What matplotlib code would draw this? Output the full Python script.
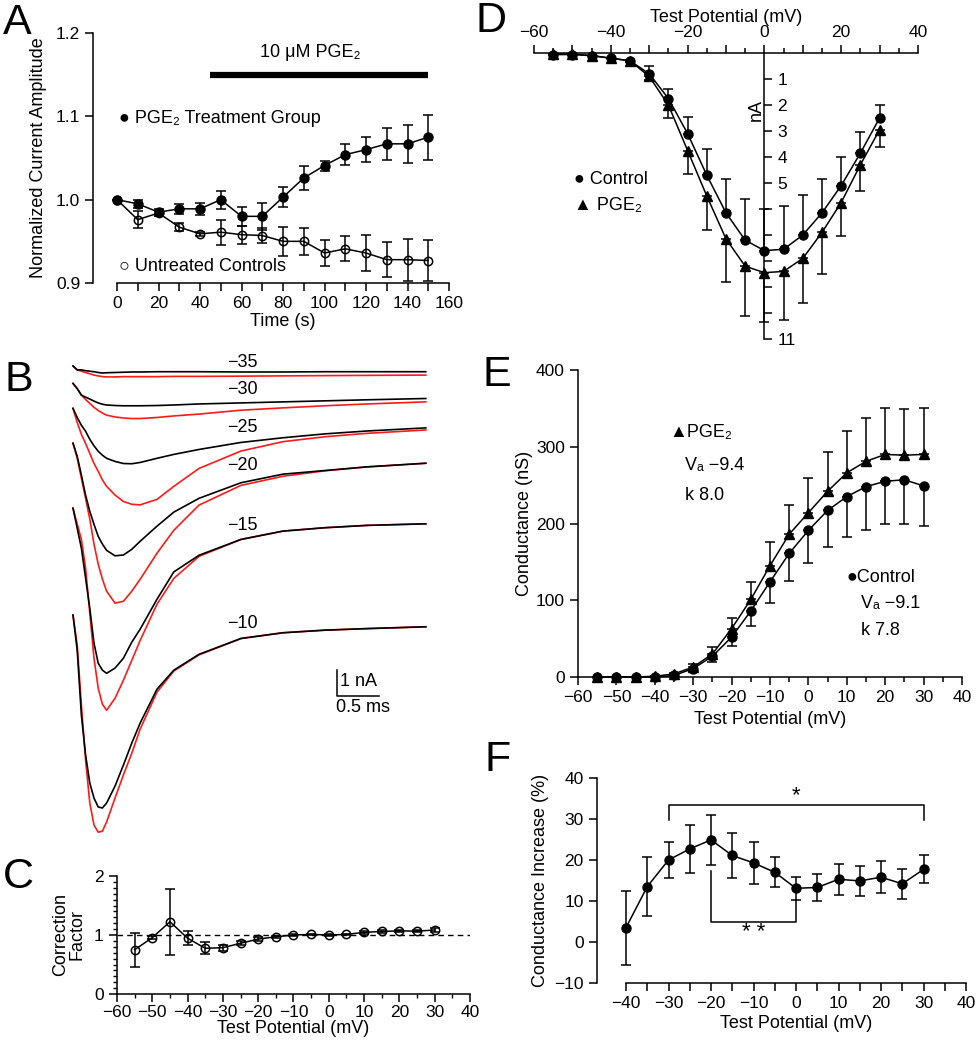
import matplotlib
matplotlib.use("Agg")
import matplotlib.pyplot as plt
from matplotlib.ticker import MultipleLocator, FixedLocator, FuncFormatter
import numpy as np

plt.rcParams["font.family"] = ["Liberation Sans", "DejaVu Sans"]
plt.rcParams["font.size"] = 13
plt.rcParams["axes.linewidth"] = 1.1
plt.rcParams["xtick.labelsize"] = 12.5
plt.rcParams["ytick.labelsize"] = 12.5

# ---- A: normalized current vs time
time_s = [0, 10, 20, 30, 40, 50, 60, 70, 80, 90, 100, 110, 120, 130, 140, 150]
pge_norm = [1.000, 0.995, 0.985, 0.989, 0.989, 1.000, 0.980, 0.980, 1.003, 1.026,
            1.041, 1.054, 1.060, 1.067, 1.067, 1.075]
pge_norm_err = [0.0, 0.005, 0.004, 0.006, 0.007, 0.011, 0.011, 0.016, 0.012, 0.014,
                0.006, 0.013, 0.015, 0.019, 0.023, 0.027]
ctrl_norm = [1.000, 0.976, 0.984, 0.967, 0.959, 0.961, 0.958, 0.957, 0.950, 0.950,
             0.936, 0.941, 0.936, 0.928, 0.928, 0.927]
ctrl_norm_err = [0.0, 0.010, 0.003, 0.005, 0.002, 0.015, 0.011, 0.009, 0.017, 0.016,
                 0.016, 0.015, 0.021, 0.021, 0.025, 0.024]
pge_window_s = [45, 150]

# ---- B: example traces (nA), control = black, PGE2 = red
trace_t_ms = [0, 0.05, 0.1, 0.15, 0.2, 0.25, 0.3, 0.35, 0.4, 0.5, 0.6, 0.7, 0.8,
              1.0, 1.2, 1.5, 2.0, 2.5, 3.0, 3.5, 4.2]
trace_labels = ["\u221235", "\u221230", "\u221225", "\u221220", "\u221215", "\u221210"]
ctrl_m35 = [0, -0.15, -0.15, -0.18, -0.2, -0.22, -0.25, -0.27, -0.26, -0.25, -0.24,
            -0.23, -0.23, -0.22, -0.22, -0.22, -0.23, -0.23, -0.22, -0.22, -0.22]
pge_m35 = [0, -0.15, -0.2, -0.25, -0.3, -0.35, -0.38, -0.41, -0.42, -0.42, -0.41,
           -0.41, -0.41, -0.41, -0.40, -0.40, -0.39, -0.38, -0.37, -0.36, -0.35]
ctrl_m30 = [0, -0.2, -0.45, -0.53, -0.6, -0.68, -0.75, -0.8, -0.83, -0.85, -0.86,
            -0.86, -0.86, -0.85, -0.83, -0.79, -0.75, -0.71, -0.67, -0.63, -0.58]
pge_m30 = [0, -0.2, -0.45, -0.62, -0.77, -0.92, -1.04, -1.14, -1.22, -1.29, -1.33,
           -1.35, -1.35, -1.31, -1.25, -1.18, -1.03, -0.94, -0.86, -0.79, -0.71]
ctrl_m25 = [0, -0.35, -0.65, -0.88, -1.19, -1.44, -1.65, -1.8, -1.92, -2.04, -2.12,
            -2.13, -2.08, -1.92, -1.77, -1.58, -1.31, -1.13, -0.98, -0.87, -0.75]
pge_m25 = [0, -0.54, -1.0, -1.35, -1.73, -2.12, -2.42, -2.75, -3.0, -3.33, -3.58,
           -3.69, -3.71, -3.5, -3.0, -2.31, -1.64, -1.28, -1.09, -0.96, -0.83]
ctrl_m20 = [0, -0.5, -1.23, -2.0, -2.62, -3.12, -3.58, -3.88, -4.12, -4.33, -4.3,
            -4.08, -3.77, -3.19, -2.65, -2.12, -1.52, -1.19, -1.05, -0.91, -0.77]
pge_m20 = [0, -0.58, -1.35, -2.12, -2.92, -3.88, -4.65, -5.23, -5.69, -6.15, -6.08,
           -5.69, -5.23, -4.23, -3.35, -2.38, -1.62, -1.27, -1.06, -0.91, -0.77]
ctrl_m15 = [0, -0.77, -1.54, -2.69, -3.85, -5.19, -5.96, -6.23, -6.35, -6.15, -5.77,
            -5.15, -4.65, -3.5, -2.45, -1.81, -1.2, -0.88, -0.75, -0.66, -0.6]
pge_m15 = [0, -0.6, -1.2, -2.3, -4.04, -5.77, -6.92, -7.54, -7.77, -7.31, -6.62,
           -5.85, -5.08, -3.69, -2.7, -1.85, -1.2, -0.88, -0.75, -0.66, -0.6]
ctrl_m10 = [0, -1.35, -3.85, -5.38, -6.46, -7.04, -7.38, -7.42, -7.23, -6.58, -5.77,
            -4.92, -4.15, -2.85, -2.12, -1.51, -0.9, -0.68, -0.58, -0.52, -0.45]
pge_m10 = [0, -1.15, -3.46, -5.58, -7.23, -8.08, -8.35, -8.31, -7.96, -7.04, -6.15,
           -5.31, -4.38, -2.96, -2.15, -1.53, -0.9, -0.68, -0.58, -0.52, -0.45]

# ---- C: correction factor
corr_mv = [-55, -50, -45, -40, -35, -30, -25, -20, -15, -10, -5, 0, 5, 10, 15, 20, 25, 30]
corr = [0.75, 0.955, 1.225, 0.945, 0.775, 0.785, 0.86, 0.93, 0.97, 1.0, 1.01, 1.0,
        1.01, 1.045, 1.06, 1.07, 1.065, 1.085]
corr_err = [0.29, 0.03, 0.56, 0.12, 0.1, 0.05, 0.03, 0.03, 0.02, 0.01, 0.01, 0.01,
            0.01, 0.02, 0.02, 0.02, 0.02, 0.04]

# ---- D: I-V (nA, inward)
iv_mv = [-55, -50, -45, -40, -35, -30, -25, -20, -15, -10, -5, 0, 5, 10, 15, 20, 25, 30]
ctrl_I = [0.06, 0.06, 0.1, 0.2, 0.3, 0.8, 1.75, 3.1, 4.7, 6.15, 7.2, 7.6, 7.55, 7.0,
          6.15, 5.1, 3.85, 2.5]
ctrl_I_err = [0, 0, 0, 0, 0.05, 0.3, 0.37, 0.64, 1.0, 1.3, 1.6, 1.6, 1.65, 1.55,
              1.3, 1.1, 0.8, 0.5]
pge_I = [0.04, 0.04, 0.1, 0.2, 0.3, 0.9, 2.0, 3.75, 5.5, 7.15, 8.2, 8.45, 8.4, 7.9,
         6.9, 5.75, 4.3, 2.95]
pge_I_err = [0, 0, 0, 0, 0.05, 0.15, 0.5, 0.9, 1.3, 1.65, 1.9, 1.9, 1.85, 1.7, 1.6,
             1.3, 1.0, 0.65]

# ---- E: conductance (nS)
ctrl_G = [0, 0, 0, 0, 2, 11, 27, 52, 86, 124, 161, 191, 217, 235, 248, 255, 257, 249]
ctrl_G_err = [0, 0, 0, 0, 1, 3, 7, 12, 19, 27, 36, 42, 48, 52, 56, 56, 57, 52]
pge_G = [0, 0, 0, 1, 4, 13, 30, 63, 101, 145, 186, 214, 242, 266, 281, 290, 289, 290]
pge_G_err = [0, 0, 0, 0, 1, 4, 9, 14, 23, 31, 38, 45, 51, 54, 57, 60, 60, 61]

# ---- F: conductance increase (%)
inc_mv = [-40, -35, -30, -25, -20, -15, -10, -5, 0, 5, 10, 15, 20, 25, 30]
inc_pct = [3.5, 13.5, 20, 22.7, 24.9, 21.1, 19.3, 17, 13.1, 13.3, 15.3, 14.9, 15.8,
           14.2, 17.7]
inc_err = [9, 7.2, 4.3, 5.8, 6, 5.4, 5.1, 3.7, 2.8, 3.3, 3.8, 3.7, 3.9, 3.7, 3.4]
sig_one_star = [-30, 30]
sig_two_star = [-20, 0]

W, H = 977, 1050
fig = plt.figure(figsize=(W / 100, H / 100), dpi=100)


def px_axes(x0, y0, x1, y1):
    return fig.add_axes([x0 / W, 1 - y1 / H, (x1 - x0) / W, (y1 - y0) / H])


def minus_fmt(v, pos):
    return f"{v:g}".replace("-", "\u2212")


eb = dict(color="k", lw=1.1, elinewidth=1.1, capsize=3.5, capthick=1.1, clip_on=False)

# ================= A
axA = px_axes(117, 33, 449, 283)
axA.errorbar(time_s, ctrl_norm, yerr=ctrl_norm_err, fmt="-o", ms=6, mfc="none",
             mew=1.1, zorder=3, **eb)
axA.errorbar(time_s, pge_norm, yerr=pge_norm_err, fmt="-o", ms=6.5, mfc="k",
             zorder=4, **eb)
axA.plot(pge_window_s, [1.15, 1.15], color="k", lw=4.5, solid_capstyle="butt")
axA.text(93, 1.176, "10 \u03bcM PGE\u2082", ha="center", va="center")
axA.text(1, 1.0976, "\u25cf PGE\u2082 Treatment Group", ha="left", va="center")
axA.text(1, 0.9195, "\u25cb Untreated Controls", ha="left", va="center")
axA.set_xlim(0, 160)
axA.set_ylim(0.9, 1.2)
axA.spines[["top", "right"]].set_visible(False)
axA.spines["left"].set_position(("outward", 17))
axA.xaxis.set_major_locator(MultipleLocator(20))
axA.xaxis.set_minor_locator(MultipleLocator(10))
axA.yaxis.set_major_locator(MultipleLocator(0.1))
axA.tick_params(which="both", length=6, width=1.1, direction="out")
axA.set_xlabel("Time (s)", labelpad=1)
axA.set_ylabel("Normalized Current Amplitude", labelpad=6)

# ================= B
axB = px_axes(60, 355, 440, 845)
axB.set_xlim(-13 / 84, 367 / 84)
axB.set_ylim(-479 / 26, 11 / 26)
axB.axis("off")
trace_offsets = [0, -0.67, -1.63, -2.97, -5.47, -9.58]
label_y = [0.15, -0.92, -2.35, -3.81, -6.12, -9.92]
ctrl_traces = [ctrl_m35, ctrl_m30, ctrl_m25, ctrl_m20, ctrl_m15, ctrl_m10]
pge_traces = [pge_m35, pge_m30, pge_m25, pge_m20, pge_m15, pge_m10]
for lab, off, ly, c, p in zip(trace_labels, trace_offsets, label_y, ctrl_traces, pge_traces):
    axB.plot(trace_t_ms, np.array(p) + off, color="#ff1a1a", lw=1.2,
             solid_joinstyle="round")
    axB.plot(trace_t_ms, np.array(c) + off, color="k", lw=1.2,
             solid_joinstyle="round")
    axB.text(2.02, ly, lab, ha="center", va="center")
axB.plot([3.143, 3.143, 3.643], [-11.69, -12.69, -12.69], color="k", lw=1.1)
axB.text(3.18, -12.14, "1 nA", ha="left", va="center")
axB.text(3.13, -13.15, "0.5 ms", ha="left", va="center")

# ================= C
axC = px_axes(117, 876, 470, 994)
axC.axhline(1, color="k", lw=1.0, ls=(0, (4, 3)))
axC.errorbar(corr_mv, corr, yerr=corr_err, fmt="-o", ms=6, mfc="none", mew=1.1,
             zorder=3, **eb)
axC.set_xlim(-60, 40)
axC.set_ylim(0, 2)
axC.spines[["top", "right"]].set_visible(False)
axC.xaxis.set_major_locator(MultipleLocator(10))
axC.xaxis.set_minor_locator(MultipleLocator(5))
axC.xaxis.set_major_formatter(FuncFormatter(minus_fmt))
axC.yaxis.set_major_locator(MultipleLocator(1))
axC.yaxis.set_minor_locator(MultipleLocator(0.1))
axC.tick_params(which="major", length=6, width=1.1)
axC.tick_params(which="minor", length=3, width=1.0)
axC.tick_params(axis="x", pad=2)
axC.set_xlabel("Test Potential (mV)", labelpad=0)
axC.set_ylabel("Correction\nFactor", labelpad=6, linespacing=1.0)

# ================= D
axD = px_axes(534, 53, 918, 339)
zeros = [0] * len(iv_mv)
axD.errorbar(iv_mv, ctrl_I, yerr=[ctrl_I_err, zeros], fmt="-o", ms=6.5, zorder=4, **eb)
axD.errorbar(iv_mv, pge_I, yerr=[zeros, pge_I_err], fmt="-^", ms=7, zorder=3, **eb)
axD.set_xlim(-60, 40)
axD.set_ylim(11, 0)
axD.spines[["left", "bottom"]].set_visible(False)
axD.spines["right"].set_position(("data", 0))
axD.xaxis.tick_top()
axD.xaxis.set_label_position("top")
axD.yaxis.tick_right()
axD.xaxis.set_major_locator(MultipleLocator(10))
axD.xaxis.set_minor_locator(MultipleLocator(5))
axD.xaxis.set_major_formatter(FuncFormatter(
    lambda v, p: minus_fmt(v, p) if round(v) % 20 == 0 else ""))
axD.yaxis.set_major_locator(FixedLocator(list(range(1, 12))))
axD.yaxis.set_major_formatter(FuncFormatter(
    lambda v, p: f"{v:g}" if (v <= 5 or v >= 11) else ""))
axD.tick_params(which="major", length=6, width=1.1)
axD.tick_params(which="minor", length=3.5, width=1.1)
axD.set_xlabel("Test Potential (mV)", labelpad=2)
axD.text(-2, 2.2, "nA", rotation=90, ha="center", va="center")
axD.text(-49.5, 4.87, "\u25cf Control", ha="left", va="center")
axD.text(-49.5, 5.85, "\u25b2 PGE\u2082", ha="left", va="center")

# ================= E
axE = px_axes(578, 370, 962, 677)
axE.errorbar(iv_mv, pge_G, yerr=[zeros, pge_G_err], fmt="-^", ms=7, zorder=3, **eb)
axE.errorbar(iv_mv, ctrl_G, yerr=[ctrl_G_err, zeros], fmt="-o", ms=6.5, zorder=4, **eb)
axE.set_xlim(-60, 40)
axE.set_ylim(0, 400)
axE.spines[["top", "right"]].set_visible(False)
axE.xaxis.set_major_locator(MultipleLocator(10))
axE.xaxis.set_minor_locator(MultipleLocator(5))
axE.xaxis.set_major_formatter(FuncFormatter(minus_fmt))
axE.yaxis.set_major_locator(MultipleLocator(100))
axE.tick_params(which="major", length=6, width=1.1)
axE.tick_params(which="minor", length=3.5, width=1.1)
axE.set_xlabel("Test Potential (mV)", labelpad=4)
axE.set_ylabel("Conductance (nS)", labelpad=2)
axE.text(-36.2, 318, "\u25b2PGE\u2082", ha="left", va="center")
axE.text(-32.1, 276, "V\u2090 \u22129.4", ha="left", va="center")
axE.text(-32.1, 237, "k 8.0", ha="left", va="center")
axE.text(9.8, 130, "\u25cfControl", ha="left", va="center")
axE.text(13.6, 96, "V\u2090 \u22129.1", ha="left", va="center")
axE.text(13.6, 61, "k 7.8", ha="left", va="center")

# ================= F
axF = px_axes(626, 778, 966, 983)
axF.errorbar(inc_mv, inc_pct, yerr=inc_err, fmt="-o", ms=6.5, zorder=3, **eb)
x0, x1 = sig_one_star
axF.plot([x0, x0, x1, x1], [29.8, 33.4, 33.4, 29.8], color="k", lw=1.1)
axF.text((x0 + x1) / 2, 35.6, "*", ha="center", va="center", fontsize=16)
x0, x1 = sig_two_star
axF.plot([x0, x0, x1, x1], [17.2, 4.8, 4.8, 10.3], color="k", lw=1.1)
axF.text((x0 + x1) / 2, 2.3, "* *", ha="center", va="center", fontsize=16)
axF.set_xlim(-40, 40)
axF.set_ylim(-10, 40)
axF.spines[["top", "right"]].set_visible(False)
axF.spines["left"].set_position(("outward", 21))
axF.xaxis.set_major_locator(MultipleLocator(10))
axF.xaxis.set_minor_locator(MultipleLocator(5))
axF.xaxis.set_major_formatter(FuncFormatter(minus_fmt))
axF.yaxis.set_major_locator(MultipleLocator(10))
axF.yaxis.set_major_formatter(FuncFormatter(minus_fmt))
axF.tick_params(which="both", length=6, width=1.1)
axF.set_xlabel("Test Potential (mV)", labelpad=3)
axF.set_ylabel("Conductance Increase (%)", labelpad=4)

# panel letters
for letter, (lx, ly) in zip("ABCDEF", [(17, 23), (19, 380), (18, 877),
                                        (491, 21), (497, 375), (498, 760)]):
    fig.text(lx / W, 1 - ly / H, letter, fontsize=31, ha="center", va="center")

fig.savefig("out.png", dpi=100)
